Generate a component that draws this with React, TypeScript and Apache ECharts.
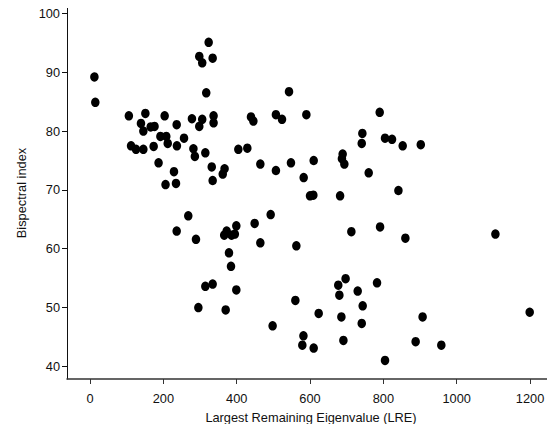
import React, { useEffect, useRef } from "react";
import * as echarts from "echarts";

const lre: number[] = [
  12, 14.5, 106, 151, 139, 145.5, 165.5, 176, 203.6, 236.4,
  192, 208, 212, 256.4, 278, 306, 298, 337, 337, 317,
  298, 306, 334.5, 323.6, 112, 125.5, 145.5, 173.6, 237, 187,
  229, 206, 234.5, 282, 286, 314.5, 332, 334.5, 362, 367,
  404.5, 429, 439, 445.5, 464.5, 507, 523.6, 507, 542.7, 548,
  590, 582.7, 790, 742.7, 741, 804.5, 823.6, 852.7, 902, 610,
  689, 687, 693.6, 760, 600, 609, 682, 841, 268, 236.4,
  289, 372.7, 366, 386, 395, 399, 449, 492.7, 464.5, 562.7,
  379, 384.5, 314.5, 334.5, 399, 295.5, 370, 560, 498, 582,
  579, 712.7, 791, 860, 1105.5, 697, 677, 680, 730, 782.7,
  743.6, 623.6, 685.5, 741, 907, 1199, 610, 691, 888, 958,
  804.5,
];

const bis: number[] = [
  89.2, 84.9, 82.6, 83.0, 81.3, 80.0, 80.7, 80.8, 82.6, 81.1,
  79.1, 79.1, 77.9, 78.8, 82.1, 82.0, 80.8, 82.6, 81.4, 86.5,
  92.7, 91.6, 92.4, 95.1, 77.5, 76.9, 76.9, 77.4, 77.5, 74.6,
  73.1, 70.9, 71.1, 77.0, 75.7, 76.3, 73.9, 71.6, 72.7, 73.6,
  76.9, 77.1, 82.4, 81.7, 74.4, 82.8, 82.0, 73.3, 86.7, 74.6,
  82.8, 72.1, 83.2, 79.6, 77.9, 78.8, 78.6, 77.5, 77.7, 75.0,
  76.1, 75.3, 74.4, 72.9, 69.0, 69.1, 69.0, 69.9, 65.6, 63.0,
  61.6, 63.0, 62.3, 62.3, 62.5, 63.9, 64.3, 65.8, 61.0, 60.5,
  59.3, 57.0, 53.6, 54.0, 53.0, 50.0, 49.6, 51.2, 46.9, 45.2,
  43.6, 62.9, 63.7, 61.8, 62.5, 54.9, 53.8, 52.1, 52.8, 54.2,
  50.3, 49.0, 48.4, 47.3, 48.4, 49.2, 43.1, 44.4, 44.2, 43.6,
  41.0,
];

const xTicks: number[] = [0, 200, 400, 600, 800, 1000, 1200];
const yTicks: number[] = [40, 50, 60, 70, 80, 90, 100];

const FONT = "Liberation Sans, Arial, sans-serif";
const FS = 12.8;

export default function App() {
  const ref = useRef<HTMLDivElement>(null);
  useEffect(() => {
    if (!ref.current) return;
    const chart = echarts.init(ref.current, undefined, { renderer: "svg" });
    const points = lre.map((x, i) => [x, bis[i]]);
    chart.setOption({
      animation: false,
      backgroundColor: "#ffffff",
      grid: { left: 67, top: 7, right: 0, bottom: 53, containLabel: false },
      xAxis: [
        {
          type: "value",
          position: "bottom",
          min: -62.7,
          max: 1268,
          name: "Largest Remaining Eigenvalue (LRE)",
          nameLocation: "middle",
          nameGap: 32,
          nameTextStyle: { color: "#111", fontSize: FS, fontFamily: FONT },
          axisLine: { show: true, onZero: false, lineStyle: { color: "#333", width: 1.5 } },
          axisTick: { show: true, length: 5, customValues: xTicks, lineStyle: { color: "#333" } },
          axisLabel: {
            customValues: xTicks,
            color: "#111",
            fontSize: FS,
            fontFamily: FONT,
            margin: 13,
            formatter: (v: number) => String(v),
          },
          splitLine: { show: false },
        },
        {
          type: "value",
          position: "top",
          min: -62.7,
          max: 1268,
          axisLine: { show: true, onZero: false, lineStyle: { color: "#444", width: 2 } },
          axisTick: { show: false },
          axisLabel: { show: false },
          splitLine: { show: false },
        },
      ],
      yAxis: {
        type: "value",
        min: 37.85,
        max: 101.1,
        name: "Bispectral index",
        nameLocation: "middle",
        nameGap: 38,
        nameTextStyle: { color: "#111", fontSize: FS, fontFamily: FONT },
        axisLine: { show: true, onZero: false, lineStyle: { color: "#111", width: 1 } },
        axisTick: { show: true, length: 5, customValues: yTicks, lineStyle: { color: "#111" } },
        axisLabel: {
          customValues: yTicks,
          color: "#111",
          fontSize: FS,
          fontFamily: FONT,
          margin: 7,
          formatter: (v: number) => String(v),
        },
        splitLine: { show: false },
      },
      series: [
        {
          type: "scatter",
          xAxisIndex: 0,
          data: points,
          symbol: "circle",
          symbolSize: [8.5, 9.5],
          itemStyle: { color: "#000", opacity: 1 },
        },
      ],
    });
    return () => chart.dispose();
  }, []);
  return <div ref={ref} style={{ width: 555, height: 432, margin: -8 }} />;
}
